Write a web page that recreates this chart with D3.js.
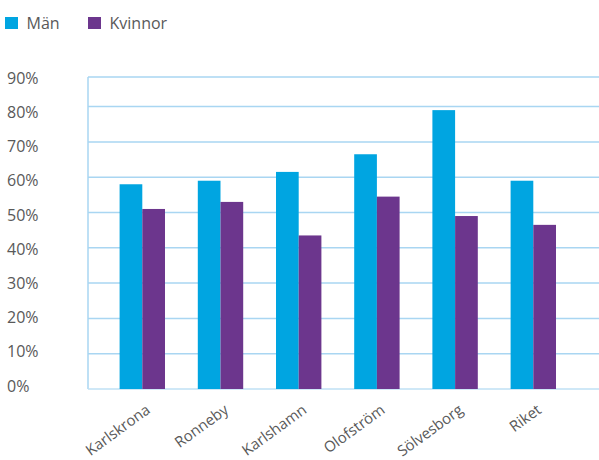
<!DOCTYPE html>
<html><head><meta charset="utf-8">
<script src="https://cdn.jsdelivr.net/npm/d3@7"></script>
<style>html,body{margin:0;padding:0;background:#fff;}svg{display:block;}</style>
</head><body>
<svg id="chart" width="599" height="460"></svg>
<script>
const categories = ["Karlskrona","Ronneby","Karlshamn","Olofström","Sölvesborg","Riket"];
const seriesNames = ["Män","Kvinnor"];
const man = [0.58, 0.59, 0.615, 0.665, 0.79, 0.59];
const kvinnor = [0.51, 0.53, 0.435, 0.545, 0.49, 0.465];
const tickValues = [0,0.1,0.2,0.3,0.4,0.5,0.6,0.7,0.8,0.9];
const tickLabels = ["0%","10%","20%","30%","40%","50%","60%","70%","80%","90%"];
const colors = ["#00a5e1","#6c368d"];

const svg = d3.select("#chart");
const font = "'Open Sans', 'DejaVu Sans', sans-serif";
const plotLeft = 88, plotRight = 599, plotTop = 77, plotBottom = 389;

const y = d3.scaleLinear().domain([0,0.9]).range([plotBottom, 71.3]);
const yLabel = d3.scaleLinear().domain([0,0.9]).range([386, 78.3]);
const x = d3.scaleBand().domain(categories).range([103.2, 572.4]).padding(0);
const xInner = d3.scaleBand().domain(seriesNames).range([0, 45.4]).padding(0);

// gridlines
svg.append("g").selectAll("line").data(tickValues.filter(v => v > 0 && v < 0.9)).join("line")
  .attr("x1", plotLeft).attr("x2", plotRight)
  .attr("y1", d => y(d)).attr("y2", d => y(d))
  .attr("stroke", "#a9d6f2").attr("stroke-width", 1.5);
// frame
svg.append("line").attr("x1", plotLeft).attr("x2", plotRight).attr("y1", plotTop).attr("y2", plotTop)
  .attr("stroke", "#a9d6f2").attr("stroke-width", 1.5);
svg.append("line").attr("x1", plotLeft).attr("x2", plotLeft).attr("y1", plotTop).attr("y2", plotBottom)
  .attr("stroke", "#a9d6f2").attr("stroke-width", 1.5);
svg.append("line").attr("x1", plotLeft).attr("x2", plotRight).attr("y1", plotBottom).attr("y2", plotBottom)
  .attr("stroke", "#bfe0f5").attr("stroke-width", 1.5);

// y labels
const yAxis = d3.axisLeft(yLabel).tickValues(tickValues).tickFormat((d,i) => tickLabels[i]).tickSize(0);
const ya = svg.append("g").attr("transform", "translate(7,0)").call(yAxis);
ya.select(".domain").remove();
ya.selectAll("text").attr("text-anchor", "start").attr("x", 0)
  .attr("font-family", font).attr("font-size", 16).attr("fill", "#595959");

// bars
const data = categories.map((c,i) => ({c, vals: [man[i], kvinnor[i]]}));
const groups = svg.append("g").selectAll("g").data(data).join("g")
  .attr("transform", d => `translate(${x(d.c) + x.bandwidth()/2 - 22.7},0)`);
groups.selectAll("rect").data(d => d.vals.map((v,j) => ({s: seriesNames[j], v, j}))).join("rect")
  .attr("x", d => xInner(d.s)).attr("width", xInner.bandwidth())
  .attr("y", d => y(d.v)).attr("height", d => plotBottom - y(d.v))
  .attr("fill", d => colors[d.j]);

// x labels
const xAxis = d3.axisBottom(x).tickSize(0);
const xa = svg.append("g").attr("transform", `translate(0,${plotBottom})`).call(xAxis);
xa.select(".domain").remove();
xa.selectAll("text")
  .attr("font-family", font).attr("font-size", 15).attr("fill", "#595959")
  .attr("text-anchor", "end").attr("dy", 0).attr("y", 0)
  .attr("transform", "translate(9,23) rotate(-36)");

// legend
const leg = svg.append("g").selectAll("g").data(seriesNames).join("g")
  .attr("transform", (d,i) => `translate(${[5, 88][i]},17)`);
leg.append("rect").attr("width", 13).attr("height", 12).attr("fill", (d,i) => colors[i]);
leg.append("text").attr("x", 21.5).attr("y", 6).attr("dy", "0.35em")
  .attr("font-family", font).attr("font-size", 16).attr("fill", "#595959").text(d => d);
</script>
</body></html>
